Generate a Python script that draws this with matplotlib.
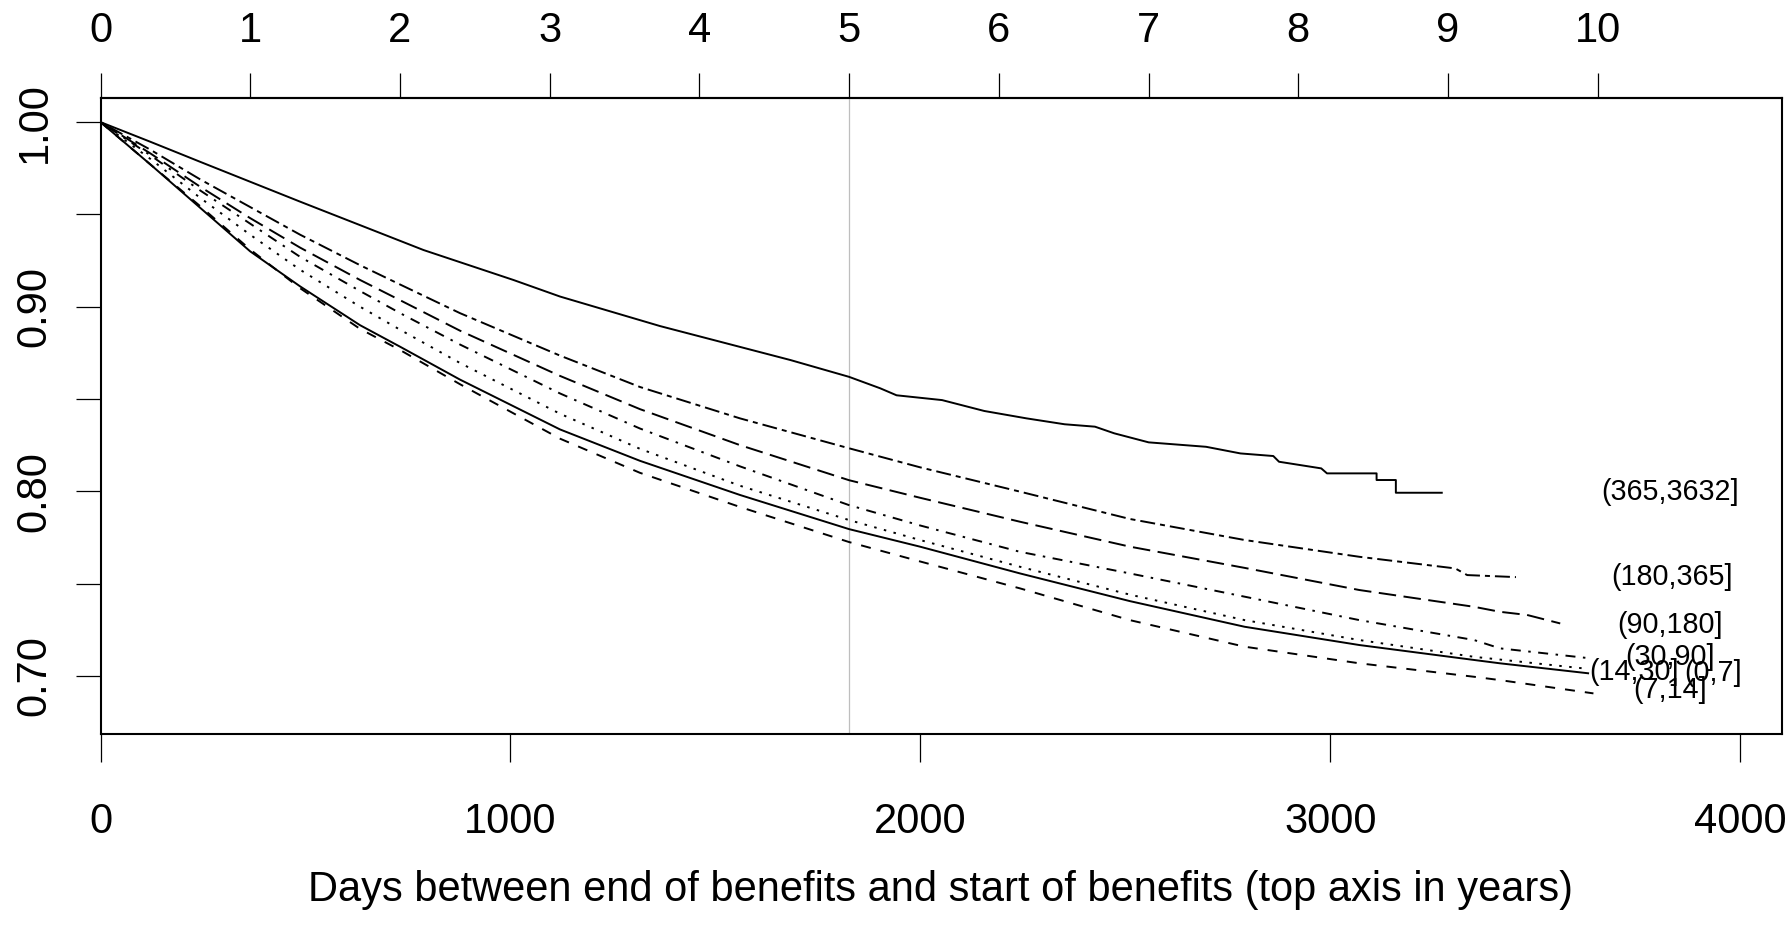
import numpy as np
import matplotlib
matplotlib.use("Agg")
import matplotlib.pyplot as plt

plt.rcParams['font.family'] = ['Liberation Sans', 'DejaVu Sans']
plt.rcParams['lines.scale_dashes'] = False

# Kaplan-Meier style curves, one per stratum (days, survival)
strata = ["(0,7]", "(7,14]", "(14,30]", "(30,90]", "(90,180]", "(180,365]", "(365,3632]"]

days_grid = [0, 122, 243, 365, 487, 633, 731, 877, 1121, 1316, 1560, 1826, 1999, 2243, 2511, 2791, 3071, 3351]

days_0_7 = days_grid + [3414, 3629]
surv_0_7 = [1.0, 0.977, 0.9536, 0.930, 0.911, 0.890, 0.8783, 0.8605, 0.8335, 0.8165, 0.7980, 0.7795, 0.770,
            0.7555, 0.7405, 0.7266, 0.7167, 0.7086, 0.7068, 0.7014]

days_7_14 = days_grid + [3414, 3642]
surv_7_14 = [1.0, 0.977, 0.9545, 0.931, 0.910, 0.888, 0.8765, 0.8580, 0.8285, 0.8100, 0.7915, 0.7725, 0.762,
             0.7474, 0.7302, 0.7158, 0.7068, 0.6995, 0.6977, 0.6905]

days_14_30 = days_grid + [3620]
surv_14_30 = [1.0, 0.980, 0.959, 0.939, 0.920, 0.900, 0.8875, 0.8695, 0.8420, 0.8230, 0.8030, 0.7844, 0.7736,
              0.7591, 0.7440, 0.7302, 0.7194, 0.7103, 0.7040]

days_30_90 = days_grid + [3414, 3634]
surv_30_90 = [1.0, 0.982, 0.963, 0.945, 0.927, 0.9085, 0.8965, 0.8795, 0.8530, 0.8340, 0.8135, 0.7925, 0.7815,
              0.7672, 0.7555, 0.7429, 0.7302, 0.7194, 0.7149, 0.7095]

days_90_180 = days_grid + [3414, 3480, 3561]
surv_90_180 = [1.0, 0.983, 0.965, 0.948, 0.932, 0.9145, 0.9035, 0.8870, 0.8625, 0.8445, 0.8250, 0.806, 0.7965,
               0.7835, 0.7700, 0.7585, 0.7465, 0.7374, 0.7347, 0.733, 0.7284]

days_180_365 = days_grid[:-1] + [3305, 3334, 3453]
surv_180_365 = [1.0, 0.985, 0.969, 0.954, 0.939, 0.9225, 0.9120, 0.8965, 0.8735, 0.8565, 0.8395, 0.8233, 0.8130,
                0.7998, 0.7850, 0.7736, 0.7645, 0.7582, 0.7546, 0.7535]

days_365_up = [0, 121, 243, 365, 487, 633, 788, 1007, 1121, 1365, 1683, 1826, 1902, 1942, 2053, 2156, 2259, 2352,
               2426, 2473, 2557, 2697, 2781, 2861, 2875, 2978, 2992, 3113, 3113, 3160, 3160, 3272]
surv_365_up = [1.0, 0.9894, 0.9785, 0.9677, 0.9569, 0.9442, 0.9307, 0.9145, 0.9055, 0.8895, 0.8711, 0.862,
               0.8558, 0.852, 0.8494, 0.8435, 0.8395, 0.8363, 0.835, 0.8314, 0.8265, 0.8241, 0.8205, 0.8191,
               0.816, 0.8124, 0.8097, 0.8097, 0.8061, 0.8061, 0.7992, 0.7992]

# where the stratum names were written
label_x = [3935, 3829, 3740, 3829, 3829, 3833, 3829]
label_y = [0.7014, 0.6923, 0.7022, 0.7104, 0.7275, 0.7537, 0.7997]

year_ticks = list(range(11))
day_ticks = [0, 1000, 2000, 3000, 4000]
surv_ticks = [0.70, 0.75, 0.80, 0.85, 0.90, 0.95, 1.00]

curves = [(days_0_7, surv_0_7), (days_7_14, surv_7_14), (days_14_30, surv_14_30),
          (days_30_90, surv_30_90), (days_90_180, surv_90_180), (days_180_365, surv_180_365),
          (days_365_up, surv_365_up)]

# R lty 1..6 then back to 1, dash units ~1.8 pt
u = 1.8
r_lty = ['-', (0, (4 * u, 4 * u)), (0, (1 * u, 3 * u)), (0, (1 * u, 3 * u, 4 * u, 3 * u)),
         (0, (7 * u, 3 * u)), (0, (2 * u, 2 * u, 6 * u, 2 * u)), '-']

fig = plt.figure(figsize=(17.9, 9.41), dpi=100)
ax = fig.add_axes([100.5 / 1790, 1 - 734 / 941, (1782 - 100.5) / 1790, (734 - 98.3) / 941])

ax.axvline(5 * 365.25, color='#bebebe', lw=0.9, zorder=1)

for (d, s), ls in zip(curves, r_lty):
    ax.plot(d, s, color='black', lw=1.4, linestyle=ls, zorder=3)

for name, lx, ly in zip(strata, label_x, label_y):
    ax.text(lx, ly, name, ha='center', va='center', fontsize=20.7)

ax.set_xlim(0, 4102)
ax.set_ylim(0.6685, 1.0129)

ax.set_xticks(day_ticks)
ax.set_xticklabels([str(t) for t in day_ticks], fontsize=30)
ax.set_yticks(surv_ticks)
ax.set_yticklabels(['0.70', '', '0.80', '', '0.90', '', '1.00'], fontsize=30,
                   rotation=90, va='center')
ax.tick_params(axis='x', direction='out', length=20, width=0.9, pad=29)
ax.tick_params(axis='y', direction='out', length=18, width=0.9, pad=15)

sec = ax.secondary_xaxis('top', functions=(lambda d: d / 365.25, lambda y: y * 365.25))
sec.set_xticks(year_ticks)
sec.set_xticklabels([str(t) for t in year_ticks], fontsize=30)
sec.tick_params(direction='out', length=18, width=0.9, pad=16)

for sp in ax.spines.values():
    sp.set_linewidth(1.5)
sec.spines['top'].set_linewidth(1.5)

fig.text(941 / 1790, 1 - 889.5 / 941, "Days between end of benefits and start of benefits (top axis in years)",
         ha='center', va='center', fontsize=30)

fig.savefig('out.png', dpi=100)
